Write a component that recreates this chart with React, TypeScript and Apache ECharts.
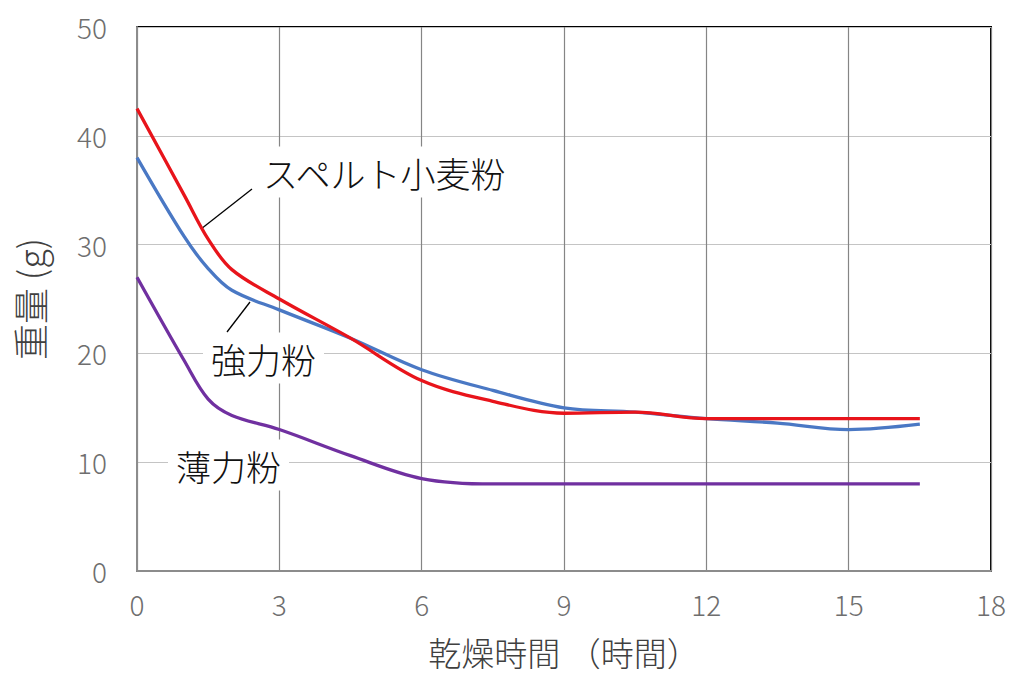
import React, { useEffect, useRef } from "react";
import * as echarts from "echarts";

const xTicks = [0, 3, 6, 9, 12, 15, 18];
const yTicks = [0, 10, 20, 30, 40, 50];

const speltX = [0, 1, 1.5, 2, 3, 4.5, 6, 7.5, 9, 10.5, 12, 13.5, 15, 16.5];
const speltY = [42.5, 34.5, 30.5, 27.7, 25, 21.4, 17.5, 15.6, 14.5, 14.6, 14, 14, 14, 14];

const strongX = [0, 1, 1.5, 2, 3, 4.5, 6, 7.5, 9, 10.5, 12, 13.5, 15, 16.5];
const strongY = [38, 30.7, 27.8, 25.8, 24, 21.4, 18.5, 16.6, 15, 14.6, 14, 13.6, 13, 13.5];

const weakX = [0, 1, 1.5, 2, 3, 4.5, 6, 7.5, 9, 12, 15, 16.5];
const weakY = [27, 19.3, 15.8, 14.3, 13, 10.6, 8.5, 8, 8, 8, 8, 8];

const seriesNames = ["スペルト小麦粉", "強力粉", "薄力粉"];
const xName = "乾燥時間 （時間）";
const yName = "重量 (g)";

const zip = (xs: number[], ys: number[]) => xs.map((x, i) => [x, ys[i]]);

export default function App() {
  const ref = useRef<HTMLDivElement>(null);
  useEffect(() => {
    document.body.style.margin = "0";
    if (!ref.current) return;
    const chart = echarts.init(ref.current, undefined, { renderer: "svg" });
    const font = "'Noto Sans CJK JP', 'Noto Sans', sans-serif";
    const labelStyle = (text: string, x: number, y: number) => ({
      type: "text",
      x,
      y,
      z: 1,
      style: {
        text,
        fill: "#111",
        font: `300 35px ${font}`,
        textAlign: "left",
        textVerticalAlign: "middle",
        backgroundColor: "#fff",
        padding: [8, 8, 8, 8],
      },
    });
    chart.setOption({
      animation: false,
      backgroundColor: "#fff",
      textStyle: { fontFamily: font },
      grid: {
        left: 137,
        right: 33,
        top: 27,
        bottom: 128,
        show: true,
        borderColor: "#000",
        borderWidth: 2,
      },
      xAxis: {
        type: "value",
        min: xTicks[0],
        max: xTicks[xTicks.length - 1],
        interval: 3,
        name: xName,
        nameLocation: "middle",
        nameGap: 64,
        nameTextStyle: { fontSize: 33, color: "#404040", fontFamily: font, fontWeight: 300 },
        axisLine: { show: true, lineStyle: { color: "#8c8c8c", width: 2 } },
        axisTick: { show: false },
        axisLabel: {
          fontSize: 28,
          color: "#6e6e6e",
          margin: 19,
          fontFamily: font,
          fontWeight: 300,
        },
        splitLine: { show: true, lineStyle: { color: "#858585", width: 1.2 } },
      },
      yAxis: {
        type: "value",
        min: yTicks[0],
        max: yTicks[yTicks.length - 1],
        interval: 10,
        name: yName,
        nameLocation: "middle",
        nameGap: 90,
        nameRotate: 90,
        nameTextStyle: { fontSize: 36, color: "#404040", fontFamily: font, fontWeight: 300 },
        axisLine: { show: true, lineStyle: { color: "#8c8c8c", width: 2 } },
        axisTick: { show: false },
        axisLabel: {
          fontSize: 28,
          color: "#6e6e6e",
          margin: 30,
          fontFamily: font,
          fontWeight: 300,
        },
        splitLine: { show: true, lineStyle: { color: "#c4c4c4", width: 1.2 } },
      },
      series: [
        {
          name: seriesNames[0],
          type: "line",
          data: zip(speltX, speltY),
          smooth: 0.35,
          showSymbol: false,
          lineStyle: { color: "#e8141b", width: 3.3 },
          z: 4,
        },
        {
          name: seriesNames[1],
          type: "line",
          data: zip(strongX, strongY),
          smooth: 0.35,
          showSymbol: false,
          lineStyle: { color: "#4a78c4", width: 3.3 },
          z: 3,
        },
        {
          name: seriesNames[2],
          type: "line",
          data: zip(weakX, weakY),
          smooth: 0.35,
          showSymbol: false,
          lineStyle: { color: "#7030a0", width: 3.3 },
          z: 3,
        },
      ],
      graphic: [
        labelStyle(seriesNames[0], 255, 172),
        labelStyle(seriesNames[1], 203, 358),
        labelStyle(seriesNames[2], 168, 465),
        {
          type: "line",
          z: 2,
          shape: { x1: 201, y1: 229, x2: 252, y2: 189 },
          style: { stroke: "#000", lineWidth: 1.3 },
        },
        {
          type: "line",
          z: 2,
          shape: { x1: 250, y1: 302, x2: 227, y2: 332 },
          style: { stroke: "#000", lineWidth: 1.3 },
        },
      ],
    });
    return () => chart.dispose();
  }, []);
  return <div ref={ref} style={{ width: 1024, height: 699 }} />;
}
